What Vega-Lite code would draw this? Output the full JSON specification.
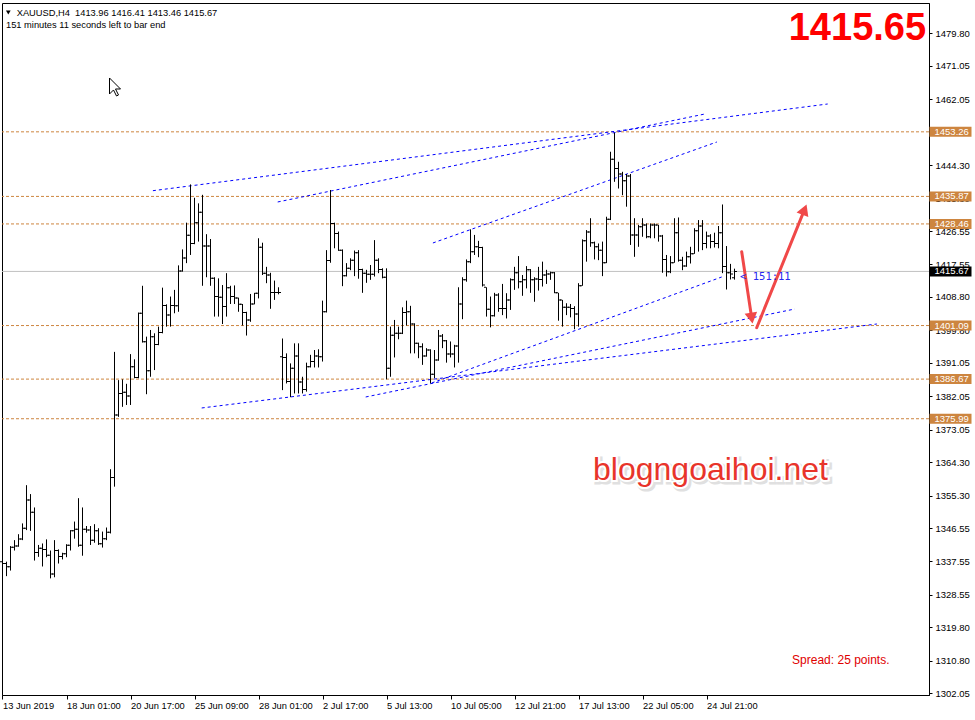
{
"$schema":"https://vega.github.io/schema/vega-lite/v6.json",
"width":927,"height":692,"autosize":"none",
"padding":{"left":2,"top":3,"right":46,"bottom":25},
"background":"white",
"config":{"view":{"stroke":"#000","strokeWidth":1},"font":"Liberation Sans","axis":{"labelOverlap":false,"labelFlush":false,"grid":false,"title":null}},
"datasets":{
"bars":[
{"i":0,"o":1337.5,"h":1339.0,"l":1334.8,"c":1337.0},{"i":1,"o":1337.0,"h":1337.5,"l":1333.6,"c":1336.1},{"i":2,"o":1336.1,"h":1341.7,"l":1335.1,"c":1341.4},{"i":3,"o":1341.4,"h":1343.3,"l":1340.5,"c":1341.7},{"i":4,"o":1341.7,"h":1344.9,"l":1341.5,"c":1343.6},{"i":5,"o":1343.6,"h":1347.8,"l":1343.3,"c":1346.5},{"i":6,"o":1346.5,"h":1358.1,"l":1346.0,"c":1354.1},{"i":7,"o":1354.1,"h":1355.7,"l":1345.8,"c":1350.8},{"i":8,"o":1350.8,"h":1352.1,"l":1337.8,"c":1340.0},{"i":9,"o":1340.0,"h":1342.0,"l":1338.8,"c":1341.1},
{"i":10,"o":1341.1,"h":1342.4,"l":1336.2,"c":1340.8},{"i":11,"o":1340.8,"h":1343.5,"l":1338.7,"c":1339.2},{"i":12,"o":1339.2,"h":1340.5,"l":1333.0,"c":1334.2},{"i":13,"o":1334.2,"h":1343.3,"l":1333.3,"c":1340.5},{"i":14,"o":1340.5,"h":1340.8,"l":1337.0,"c":1338.9},{"i":15,"o":1338.9,"h":1339.9,"l":1338.1,"c":1339.6},{"i":16,"o":1339.6,"h":1342.2,"l":1338.7,"c":1341.9},{"i":17,"o":1341.9,"h":1346.0,"l":1340.5,"c":1345.8},{"i":18,"o":1345.8,"h":1348.3,"l":1343.7,"c":1346.2},{"i":19,"o":1346.2,"h":1354.6,"l":1341.5,"c":1341.9},
{"i":20,"o":1341.9,"h":1352.1,"l":1339.1,"c":1346.2},{"i":21,"o":1346.2,"h":1347.1,"l":1345.3,"c":1346.0},{"i":22,"o":1346.0,"h":1347.1,"l":1342.0,"c":1343.3},{"i":23,"o":1343.3,"h":1347.6,"l":1342.6,"c":1345.8},{"i":24,"o":1345.8,"h":1346.5,"l":1342.0,"c":1342.3},{"i":25,"o":1342.3,"h":1345.6,"l":1341.3,"c":1343.7},{"i":26,"o":1343.7,"h":1346.7,"l":1343.3,"c":1345.4},{"i":27,"o":1345.4,"h":1362.4,"l":1345.1,"c":1360.2},{"i":28,"o":1360.2,"h":1394.0,"l":1357.7,"c":1377.0},{"i":29,"o":1377.0,"h":1386.4,"l":1376.5,"c":1382.8},
{"i":30,"o":1382.8,"h":1386.6,"l":1379.2,"c":1383.1},{"i":31,"o":1383.1,"h":1385.4,"l":1379.7,"c":1382.1},{"i":32,"o":1382.1,"h":1393.4,"l":1379.7,"c":1390.0},{"i":33,"o":1390.0,"h":1392.0,"l":1386.9,"c":1387.1},{"i":34,"o":1387.1,"h":1404.6,"l":1386.9,"c":1404.4},{"i":35,"o":1404.4,"h":1411.8,"l":1396.5,"c":1396.7},{"i":36,"o":1396.7,"h":1398.1,"l":1382.6,"c":1388.9},{"i":37,"o":1388.9,"h":1399.9,"l":1387.3,"c":1398.1},{"i":38,"o":1398.1,"h":1399.0,"l":1389.1,"c":1396.0},{"i":39,"o":1396.0,"h":1400.8,"l":1395.8,"c":1399.2},
{"i":40,"o":1399.2,"h":1411.3,"l":1399.0,"c":1406.5},{"i":41,"o":1406.5,"h":1406.8,"l":1400.8,"c":1403.9},{"i":42,"o":1403.9,"h":1408.9,"l":1400.8,"c":1406.5},{"i":43,"o":1406.5,"h":1410.7,"l":1404.4,"c":1406.4},{"i":44,"o":1406.4,"h":1417.3,"l":1404.8,"c":1415.8},{"i":45,"o":1415.8,"h":1421.6,"l":1415.6,"c":1419.3},{"i":46,"o":1419.3,"h":1428.8,"l":1417.9,"c":1425.4},{"i":47,"o":1425.4,"h":1439.1,"l":1420.1,"c":1423.2},{"i":48,"o":1423.2,"h":1435.5,"l":1423.0,"c":1428.8},{"i":49,"o":1428.8,"h":1434.0,"l":1423.7,"c":1431.6},
{"i":50,"o":1431.6,"h":1436.3,"l":1411.8,"c":1422.5},{"i":51,"o":1422.5,"h":1425.7,"l":1414.1,"c":1422.5},{"i":52,"o":1422.5,"h":1424.4,"l":1411.8,"c":1413.8},{"i":53,"o":1413.8,"h":1414.1,"l":1403.5,"c":1408.9},{"i":54,"o":1408.9,"h":1413.8,"l":1403.5,"c":1408.7},{"i":55,"o":1408.7,"h":1412.0,"l":1401.5,"c":1406.2},{"i":56,"o":1406.2,"h":1415.2,"l":1403.5,"c":1411.3},{"i":57,"o":1411.3,"h":1411.8,"l":1406.9,"c":1408.9},{"i":58,"o":1408.9,"h":1411.9,"l":1406.9,"c":1408.5},{"i":59,"o":1408.5,"h":1408.6,"l":1404.8,"c":1406.8},
{"i":60,"o":1406.8,"h":1406.9,"l":1401.1,"c":1404.6},{"i":61,"o":1404.6,"h":1404.8,"l":1398.4,"c":1402.6},{"i":62,"o":1402.6,"h":1409.6,"l":1402.1,"c":1406.9},{"i":63,"o":1406.9,"h":1409.9,"l":1406.8,"c":1409.8},{"i":64,"o":1409.8,"h":1424.6,"l":1408.4,"c":1422.2},{"i":65,"o":1422.2,"h":1423.4,"l":1414.7,"c":1415.2},{"i":66,"o":1415.2,"h":1416.9,"l":1412.5,"c":1414.7},{"i":67,"o":1414.7,"h":1415.3,"l":1405.6,"c":1410.0},{"i":68,"o":1410.0,"h":1413.2,"l":1408.0,"c":1410.0},{"i":69,"o":1410.0,"h":1411.4,"l":1409.5,"c":1410.0},
{"i":70,"o":1392.7,"h":1397.6,"l":1383.7,"c":1392.5},{"i":71,"o":1392.5,"h":1393.6,"l":1385.5,"c":1386.0},{"i":72,"o":1386.0,"h":1390.9,"l":1381.8,"c":1389.6},{"i":73,"o":1389.6,"h":1396.3,"l":1382.8,"c":1392.9},{"i":74,"o":1392.9,"h":1396.3,"l":1382.8,"c":1385.9},{"i":75,"o":1385.9,"h":1387.3,"l":1382.8,"c":1383.9},{"i":76,"o":1383.9,"h":1391.1,"l":1383.3,"c":1390.0},{"i":77,"o":1390.0,"h":1393.2,"l":1389.8,"c":1391.4},{"i":78,"o":1391.4,"h":1394.5,"l":1389.8,"c":1392.9},{"i":79,"o":1392.9,"h":1394.7,"l":1389.8,"c":1392.7},
{"i":80,"o":1392.7,"h":1407.8,"l":1391.4,"c":1404.8},{"i":81,"o":1404.8,"h":1421.4,"l":1404.6,"c":1418.6},{"i":82,"o":1418.6,"h":1437.6,"l":1418.0,"c":1428.6},{"i":83,"o":1428.6,"h":1428.8,"l":1421.9,"c":1425.9},{"i":84,"o":1425.9,"h":1426.4,"l":1421.2,"c":1421.4},{"i":85,"o":1421.4,"h":1421.6,"l":1411.7,"c":1414.5},{"i":86,"o":1414.5,"h":1417.9,"l":1414.3,"c":1416.5},{"i":87,"o":1416.5,"h":1419.2,"l":1416.0,"c":1418.7},{"i":88,"o":1418.7,"h":1421.3,"l":1414.4,"c":1420.7},{"i":89,"o":1420.7,"h":1421.4,"l":1413.7,"c":1416.2},
{"i":90,"o":1416.2,"h":1416.4,"l":1409.9,"c":1415.2},{"i":91,"o":1415.2,"h":1416.1,"l":1412.6,"c":1414.9},{"i":92,"o":1414.9,"h":1417.4,"l":1413.4,"c":1414.9},{"i":93,"o":1414.9,"h":1424.1,"l":1414.3,"c":1418.7},{"i":94,"o":1418.7,"h":1419.2,"l":1415.2,"c":1416.2},{"i":95,"o":1416.2,"h":1416.5,"l":1413.8,"c":1414.1},{"i":96,"o":1414.1,"h":1416.5,"l":1386.6,"c":1389.6},{"i":97,"o":1389.6,"h":1400.8,"l":1387.3,"c":1398.5},{"i":98,"o":1398.5,"h":1402.6,"l":1392.5,"c":1399.0},{"i":99,"o":1399.0,"h":1400.8,"l":1397.4,"c":1399.0},
{"i":100,"o":1399.0,"h":1406.0,"l":1398.8,"c":1404.6},{"i":101,"o":1404.6,"h":1407.8,"l":1401.1,"c":1404.8},{"i":102,"o":1404.8,"h":1406.4,"l":1393.6,"c":1401.5},{"i":103,"o":1401.5,"h":1401.7,"l":1393.6,"c":1396.3},{"i":104,"o":1396.3,"h":1396.5,"l":1392.3,"c":1395.4},{"i":105,"o":1395.4,"h":1396.3,"l":1390.5,"c":1392.9},{"i":106,"o":1392.9,"h":1395.0,"l":1392.7,"c":1394.5},{"i":107,"o":1394.5,"h":1394.7,"l":1385.5,"c":1388.0},{"i":108,"o":1388.0,"h":1394.5,"l":1386.9,"c":1391.8},{"i":109,"o":1391.8,"h":1399.9,"l":1391.6,"c":1398.3},
{"i":110,"o":1398.3,"h":1398.8,"l":1395.0,"c":1397.0},{"i":111,"o":1397.0,"h":1397.2,"l":1391.1,"c":1393.4},{"i":112,"o":1393.4,"h":1396.8,"l":1392.5,"c":1393.4},{"i":113,"o":1393.4,"h":1395.9,"l":1389.8,"c":1395.6},{"i":114,"o":1395.6,"h":1411.4,"l":1391.1,"c":1406.9},{"i":115,"o":1406.9,"h":1414.1,"l":1402.8,"c":1413.4},{"i":116,"o":1413.4,"h":1418.9,"l":1412.9,"c":1418.3},{"i":117,"o":1418.3,"h":1427.0,"l":1417.9,"c":1421.0},{"i":118,"o":1421.0,"h":1425.5,"l":1420.1,"c":1422.3},{"i":119,"o":1422.3,"h":1423.9,"l":1419.5,"c":1422.1},
{"i":120,"o":1422.1,"h":1422.3,"l":1411.6,"c":1412.0},{"i":121,"o":1411.4,"h":1411.4,"l":1403.5,"c":1405.5},{"i":122,"o":1405.5,"h":1408.9,"l":1400.6,"c":1403.7},{"i":123,"o":1403.7,"h":1409.9,"l":1403.5,"c":1409.3},{"i":124,"o":1409.3,"h":1409.8,"l":1404.8,"c":1405.7},{"i":125,"o":1405.7,"h":1412.3,"l":1403.9,"c":1405.7},{"i":126,"o":1405.7,"h":1409.8,"l":1403.0,"c":1408.0},{"i":127,"o":1408.0,"h":1413.8,"l":1405.3,"c":1413.4},{"i":128,"o":1413.4,"h":1416.9,"l":1410.7,"c":1415.3},{"i":129,"o":1415.3,"h":1419.8,"l":1411.1,"c":1412.9},
{"i":130,"o":1412.9,"h":1414.7,"l":1409.1,"c":1413.4},{"i":131,"o":1413.4,"h":1417.1,"l":1411.1,"c":1416.1},{"i":132,"o":1416.1,"h":1416.3,"l":1409.9,"c":1413.4},{"i":133,"o":1413.4,"h":1414.1,"l":1407.5,"c":1413.6},{"i":134,"o":1413.6,"h":1416.9,"l":1410.5,"c":1413.5},{"i":135,"o":1413.5,"h":1418.3,"l":1411.6,"c":1414.7},{"i":136,"o":1414.7,"h":1416.1,"l":1412.3,"c":1415.0},{"i":137,"o":1415.0,"h":1415.6,"l":1413.4,"c":1415.3},{"i":138,"o":1415.3,"h":1415.5,"l":1409.8,"c":1409.9},{"i":139,"o":1409.9,"h":1409.9,"l":1402.4,"c":1408.0},
{"i":140,"o":1408.0,"h":1408.0,"l":1400.8,"c":1406.0},{"i":141,"o":1406.0,"h":1407.1,"l":1403.9,"c":1406.0},{"i":142,"o":1406.0,"h":1406.9,"l":1403.3,"c":1405.7},{"i":143,"o":1405.7,"h":1406.3,"l":1400.1,"c":1404.2},{"i":144,"o":1404.2,"h":1412.5,"l":1400.8,"c":1411.8},{"i":145,"o":1411.8,"h":1424.3,"l":1411.8,"c":1423.9},{"i":146,"o":1423.9,"h":1426.8,"l":1418.3,"c":1426.3},{"i":147,"o":1426.3,"h":1430.0,"l":1422.3,"c":1423.4},{"i":148,"o":1423.4,"h":1423.7,"l":1418.9,"c":1422.3},{"i":149,"o":1422.3,"h":1423.2,"l":1418.7,"c":1421.4},
{"i":150,"o":1421.4,"h":1423.7,"l":1414.4,"c":1418.0},{"i":151,"o":1418.0,"h":1430.4,"l":1417.9,"c":1429.7},{"i":152,"o":1429.7,"h":1447.9,"l":1429.5,"c":1445.9},{"i":153,"o":1445.9,"h":1453.0,"l":1439.8,"c":1443.4},{"i":154,"o":1443.4,"h":1445.2,"l":1438.0,"c":1441.9},{"i":155,"o":1441.9,"h":1442.5,"l":1436.2,"c":1440.1},{"i":156,"o":1440.1,"h":1441.9,"l":1433.1,"c":1441.4},{"i":157,"o":1441.4,"h":1441.9,"l":1422.8,"c":1425.5},{"i":158,"o":1425.5,"h":1430.0,"l":1419.6,"c":1425.5},{"i":159,"o":1425.5,"h":1428.2,"l":1422.3,"c":1427.7},
{"i":160,"o":1427.7,"h":1430.0,"l":1425.0,"c":1428.2},{"i":161,"o":1428.2,"h":1428.6,"l":1424.6,"c":1425.0},{"i":162,"o":1425.0,"h":1428.6,"l":1424.6,"c":1428.2},{"i":163,"o":1428.2,"h":1428.6,"l":1424.6,"c":1428.2},{"i":164,"o":1428.2,"h":1428.2,"l":1423.7,"c":1425.2},{"i":165,"o":1425.2,"h":1425.5,"l":1415.3,"c":1418.9},{"i":166,"o":1418.9,"h":1420.1,"l":1414.3,"c":1415.6},{"i":167,"o":1415.6,"h":1419.8,"l":1415.2,"c":1418.0},{"i":168,"o":1418.0,"h":1430.0,"l":1418.0,"c":1426.1},{"i":169,"o":1426.1,"h":1430.2,"l":1418.3,"c":1418.7},
{"i":170,"o":1418.7,"h":1419.6,"l":1416.0,"c":1417.1},{"i":171,"o":1417.1,"h":1421.0,"l":1416.9,"c":1419.6},{"i":172,"o":1419.6,"h":1422.3,"l":1417.8,"c":1420.4},{"i":173,"o":1420.4,"h":1427.3,"l":1420.4,"c":1426.6},{"i":174,"o":1426.6,"h":1429.5,"l":1421.0,"c":1427.9},{"i":175,"o":1427.9,"h":1429.5,"l":1421.4,"c":1423.2},{"i":176,"o":1423.2,"h":1426.4,"l":1421.9,"c":1425.2},{"i":177,"o":1425.2,"h":1425.7,"l":1421.9,"c":1423.7},{"i":178,"o":1423.7,"h":1426.1,"l":1422.1,"c":1423.2},{"i":179,"o":1423.2,"h":1427.9,"l":1421.9,"c":1426.1},
{"i":180,"o":1426.1,"h":1433.7,"l":1415.2,"c":1417.0},{"i":181,"o":1417.0,"h":1422.5,"l":1410.8,"c":1415.3},{"i":182,"o":1415.3,"h":1417.7,"l":1413.5,"c":1415.0},{"i":183,"o":1413.96,"h":1416.41,"l":1413.46,"c":1415.67}
],
"levels":[{"p":1453.26},{"p":1435.87},{"p":1428.46},{"p":1401.09},{"p":1386.67},{"p":1375.99}],
"current":[{"p":1415.67}],
"trend":[
{"id":"A","i":37.6,"p":1437.41},{"id":"A","i":206.3,"p":1460.76},
{"id":"B","i":68.8,"p":1434.37},{"id":"B","i":175.6,"p":1458.07},
{"id":"C","i":107.6,"p":1423.33},{"id":"C","i":178.6,"p":1450.53},
{"id":"D","i":107.3,"p":1385.62},{"id":"D","i":179.8,"p":1414.17},
{"id":"E","i":90.8,"p":1381.85},{"id":"E","i":198.1,"p":1405.55},
{"id":"F","i":49.8,"p":1378.89},{"id":"F","i":218.6,"p":1401.51}
],
"arrows":[
{"id":"down","i":184.8,"p":1420.98},{"id":"down","i":187.3,"p":1403.1},
{"id":"up","i":188.55,"p":1400.51},{"id":"up","i":200.5,"p":1432.3}
]
},
"layer":[
{"data":{"name":"levels"},"mark":{"type":"rule","color":"#CD853F","strokeWidth":1,"strokeDash":[3,2]},
 "encoding":{"y":{"field":"p","type":"quantitative","title":null}}},
{"data":{"name":"current"},"mark":{"type":"rule","color":"#C0C0C0","strokeWidth":1},
 "encoding":{"y":{"field":"p","type":"quantitative","title":null}}},
{"data":{"name":"trend"},"mark":{"type":"line","color":"#0000FF","strokeWidth":1,"strokeDash":[3,3]},
 "encoding":{"x":{"field":"i","type":"quantitative","title":null},"y":{"field":"p","type":"quantitative","title":null},"detail":{"field":"id"}}},
{"data":{"name":"bars"},"mark":{"type":"rule","color":"#000","strokeWidth":1},
 "encoding":{
  "x":{"field":"i","type":"quantitative","title":null,"scale":{"domain":[-0.125,231.625],"nice":false,"zero":false},
   "axis":{"values":[0,16,32,48,64,80,96,112,128,144,160,176],"tickCount":50,"title":null,"grid":false,"domainColor":"#000","tickColor":"#000","tickSize":4,"labelColor":"#000","labelFontSize":9.3,"labelAlign":"left","labelBaseline":"top","labelPadding":2,"labelFlush":false,"labelOverlap":false,
    "labelExpr":"['13 Jun 2019','18 Jun 01:00','20 Jun 17:00','25 Jun 09:00','28 Jun 01:00','2 Jul 17:00','5 Jul 13:00','10 Jul 05:00','12 Jul 21:00','17 Jul 13:00','22 Jul 05:00','24 Jul 21:00'][round(datum.value/16)]"}},
  "y":{"field":"l","type":"quantitative","title":null,"scale":{"domain":[1301.59,1487.96],"nice":false,"zero":false},
   "axis":{"orient":"right","values":[1302.05,1310.80,1319.80,1328.55,1337.55,1346.55,1355.30,1364.30,1373.05,1382.05,1391.05,1399.80,1408.80,1417.55,1426.55,1435.30,1444.30,1453.05,1462.05,1471.05,1479.80],"tickCount":60,"format":".2f","title":null,"grid":false,"domainColor":"#000","tickColor":"#000","tickSize":3,"labelColor":"#000","labelFontSize":9.5,"labelPadding":3,"labelOverlap":false,"labelFlush":false}},
  "y2":{"field":"h"}}},
{"data":{"name":"bars"},"mark":{"type":"tick","orient":"horizontal","color":"#000","size":2,"thickness":1,"xOffset":-1.5,"opacity":1},
 "encoding":{"x":{"field":"i","type":"quantitative","title":null},"y":{"field":"o","type":"quantitative","title":null}}},
{"data":{"name":"bars"},"mark":{"type":"tick","orient":"horizontal","color":"#000","size":2,"thickness":1,"xOffset":1.5,"opacity":1},
 "encoding":{"x":{"field":"i","type":"quantitative","title":null},"y":{"field":"c","type":"quantitative","title":null}}},
{"data":{"name":"arrows"},"mark":{"type":"line","color":"#F04848","strokeWidth":3,"strokeCap":"round"},
 "encoding":{"x":{"field":"i","type":"quantitative","title":null},"y":{"field":"p","type":"quantitative","title":null},"detail":{"field":"id"}}},
{"data":{"values":[{}]},"mark":{"type":"point","shape":"triangle-up","filled":true,"color":"#F04848","opacity":1,"size":160,"angle":171},
 "encoding":{"x":{"datum":187.3},"y":{"datum":1403.1}}},
{"data":{"values":[{}]},"mark":{"type":"point","shape":"triangle-up","filled":true,"color":"#F04848","opacity":1,"size":160,"angle":22},
 "encoding":{"x":{"datum":200.5},"y":{"datum":1432.3}}},
{"data":{"values":[{}]},"mark":{"type":"point","shape":"triangle-down","filled":true,"color":"#000","opacity":1,"size":22},
 "encoding":{"x":{"datum":1.45},"y":{"datum":1485.4}}},
{"data":{"values":[{}]},"mark":{"type":"text","text":"XAUUSD,H4\u00a0 1413.96 1416.41 1413.46 1415.67","align":"left","baseline":"alphabetic","fontSize":9.3,"color":"#000"},
 "encoding":{"x":{"datum":3.55},"y":{"datum":1484.33}}},
{"data":{"values":[{}]},"mark":{"type":"text","text":"151 minutes 11 seconds left to bar end","align":"left","baseline":"alphabetic","fontSize":9.3,"color":"#000"},
 "encoding":{"x":{"datum":0.875},"y":{"datum":1481.23}}},
{"data":{"values":[{}]},"mark":{"type":"text","text":"1415.65","align":"right","baseline":"alphabetic","fontSize":38,"fontWeight":"bold","color":"#FF0000"},
 "encoding":{"x":{"datum":230.9},"y":{"datum":1477.9}}},
{"data":{"values":[{}]},"mark":{"type":"text","text":"blogngoaihoi.net","align":"center","baseline":"alphabetic","fontSize":32,"color":"#AAAAAA","stroke":"#CCCCCC","strokeWidth":5,"opacity":0.6,"dx":2,"dy":2},
 "encoding":{"x":{"datum":177},"y":{"datum":1359.5}}},
{"data":{"values":[{}]},"mark":{"type":"text","text":"blogngoaihoi.net","align":"center","baseline":"alphabetic","fontSize":32,"color":"#FFFFFF","stroke":"#FFFFFF","strokeWidth":4},
 "encoding":{"x":{"datum":177},"y":{"datum":1359.5}}},
{"data":{"values":[{}]},"mark":{"type":"text","text":"blogngoaihoi.net","align":"center","baseline":"alphabetic","fontSize":32,"color":"#E8342A"},
 "encoding":{"x":{"datum":177},"y":{"datum":1359.5}}},
{"data":{"values":[{}]},"mark":{"type":"text","text":"Spread: 25 points.","align":"left","baseline":"alphabetic","fontSize":12,"color":"#E00000"},
 "encoding":{"x":{"datum":197.4},"y":{"datum":1309.94}}},
{"data":{"values":[{}]},"mark":{"type":"text","text":"<\u00a0151:11","align":"left","baseline":"middle","fontSize":10.5,"font":"DejaVu Sans Mono","color":"#2828F0"},
 "encoding":{"x":{"datum":184.4},"y":{"datum":1414.17}}},
{"data":{"values":[{}]},"mark":{"type":"point","shape":"M-0.55,-0.9L-0.55,0.7L-0.15,0.3L0.15,0.9L0.35,0.8L0.05,0.2L0.55,0.2Z","filled":true,"fill":"#FFFFFF","stroke":"#000","strokeWidth":1,"opacity":1,"size":400},
 "encoding":{"x":{"datum":28.125},"y":{"datum":1465.34}}},
{"data":{"name":"levels"},"mark":{"type":"tick","orient":"horizontal","color":"#CD853F","size":42,"thickness":10,"opacity":1},
 "encoding":{"x":{"datum":237.0},"y":{"field":"p","type":"quantitative","title":null}}},
{"data":{"name":"current"},"mark":{"type":"tick","orient":"horizontal","color":"#000","size":42,"thickness":10,"opacity":1},
 "encoding":{"x":{"datum":237.0},"y":{"field":"p","type":"quantitative","title":null}}},
{"data":{"name":"levels"},"mark":{"type":"text","align":"left","baseline":"middle","fontSize":9.5,"color":"#FFFFFF"},
 "encoding":{"x":{"datum":233.0},"y":{"field":"p","type":"quantitative","title":null},"text":{"field":"p","type":"quantitative","format":".2f"}}},
{"data":{"name":"current"},"mark":{"type":"text","align":"left","baseline":"middle","fontSize":9.5,"color":"#FFFFFF"},
 "encoding":{"x":{"datum":233.0},"y":{"field":"p","type":"quantitative","title":null},"text":{"field":"p","type":"quantitative","format":".2f"}}}
]
}
